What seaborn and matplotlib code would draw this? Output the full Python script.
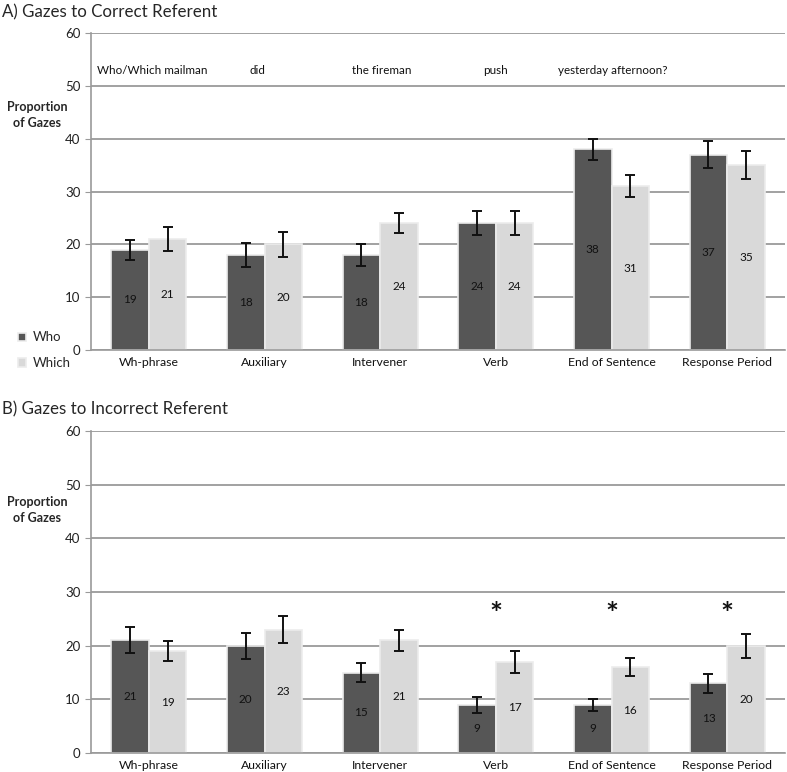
import numpy as np
import pandas as pd
import seaborn as sns
import matplotlib.pyplot as plt
from matplotlib.ticker import FixedLocator

# values
categories = ["Wh-phrase", "Auxiliary", "Intervener", "Verb", "End of Sentence", "Response Period"]
groups = ["Who", "Which"]

correct_who = [19, 18, 18, 24, 38, 37]
correct_which = [21, 20, 24, 24, 31, 35]
correct_who_err = [1.9, 2.3, 2.1, 2.3, 2.0, 2.5]
correct_which_err = [2.2, 2.3, 1.9, 2.3, 2.1, 2.6]

incorrect_who = [21, 20, 15, 9, 9, 13]
incorrect_which = [19, 23, 21, 17, 16, 20]
incorrect_who_err = [2.4, 2.4, 1.7, 1.5, 1.1, 1.8]
incorrect_which_err = [1.8, 2.5, 2.0, 2.0, 1.7, 2.2]

sentence_words = ["Who/Which mailman", "did", "the fireman", "push", "yesterday afternoon?"]
sentence_x = [-0.45, 0.87, 1.76, 2.89, 3.54]
significant = ["Verb", "End of Sentence", "Response Period"]

sns.set_style("white")
plt.rcParams["font.family"] = ["Lato", "DejaVu Sans"]

palette = {"Who": "#565656", "Which": "#d9d9d9"}
grid_col = "#9a9a9a"


def make_df(who, which):
    return pd.DataFrame({
        "segment": categories * 2,
        "group": ["Who"] * len(categories) + ["Which"] * len(categories),
        "value": who + which,
    })


def draw_panel(ax, who, which, who_err, which_err, ylab_y):
    df = make_df(who, which)
    sns.barplot(data=df, x="segment", y="value", hue="group", hue_order=groups,
                palette=palette, errorbar=None, width=0.65, saturation=1,
                edgecolor="#ececec", linewidth=1.2, ax=ax, zorder=2)
    for cont, errs in zip(ax.containers, [who_err, which_err]):
        xs = [p.get_x() + p.get_width() / 2 for p in cont]
        hs = [p.get_height() for p in cont]
        ax.errorbar(xs, hs, yerr=errs, fmt="none", ecolor="#111111",
                    elinewidth=1.4, capsize=3.5, capthick=1.4, zorder=3)
        ax.bar_label(cont, labels=[f"{h:.0f}" for h in hs], label_type="center",
                     fontsize=8.5, color="#111111")
    ax.set_ylim(0, 60)
    ax.set_xlim(-0.5, len(categories) - 0.5)
    ax.set_yticks(range(0, 61, 10))
    ax.yaxis.grid(True, color=grid_col, linewidth=1.3, zorder=0)
    ax.set_axisbelow(True)
    for s in ["top", "right"]:
        ax.spines[s].set_visible(False)
    for s in ["left", "bottom"]:
        ax.spines[s].set_color(grid_col)
        ax.spines[s].set_linewidth(1.2)
    ax.set_xlabel("")
    ax.set_ylabel("")
    ax.tick_params(axis="x", which="major", length=0, labelsize=8.8, pad=5, colors="#111111")
    ax.xaxis.set_minor_locator(FixedLocator(np.arange(-0.5, len(categories), 1.0)))
    ax.tick_params(axis="x", which="minor", length=4, color=grid_col, width=1)
    ax.tick_params(axis="y", length=4, color=grid_col, labelsize=9.5, colors="#222222", left=True)
    ax.text(-0.078, ylab_y, "Proportion\nof Gazes", transform=ax.get_yaxis_transform(),
            ha="center", va="center", fontsize=9, fontweight="bold", linespacing=1.35)


fig = plt.figure(figsize=(7.87, 7.72), dpi=100)
ax1 = fig.add_axes([0.1156, 0.5466, 0.882, 0.4106])
ax2 = fig.add_axes([0.1156, 0.0246, 0.882, 0.417])

draw_panel(ax1, correct_who, correct_which, correct_who_err, correct_which_err, 44.5)
draw_panel(ax2, incorrect_who, incorrect_which, incorrect_who_err, incorrect_which_err, 45.3)

# sentence annotation above the top panel bars
for w, xw in zip(sentence_words, sentence_x):
    ax1.text(xw, 53, w, ha="left", va="center", fontsize=8.4, color="#111111")

# significance markers
for cat in significant:
    ax2.text(categories.index(cat), 25.8, "*", ha="center", va="center",
             fontsize=22, fontweight="bold", color="#111111")

handles, labels = ax1.get_legend_handles_labels()
ax2.get_legend().remove()
ax1.legend(handles, labels, loc="upper left", bbox_to_anchor=(0.008, 0.586),
           bbox_transform=fig.transFigure, frameon=False, fontsize=9.5,
           handlelength=0.6, handleheight=0.6, handletextpad=0.5, labelspacing=1.05)

fig.text(0.002, 0.984, "A) Gazes to Correct Referent", ha="left", va="center", fontsize=12.2)
fig.text(0.002, 0.47, "B) Gazes to Incorrect Referent", ha="left", va="center", fontsize=12.2)

fig.savefig("out.png", dpi=100)
